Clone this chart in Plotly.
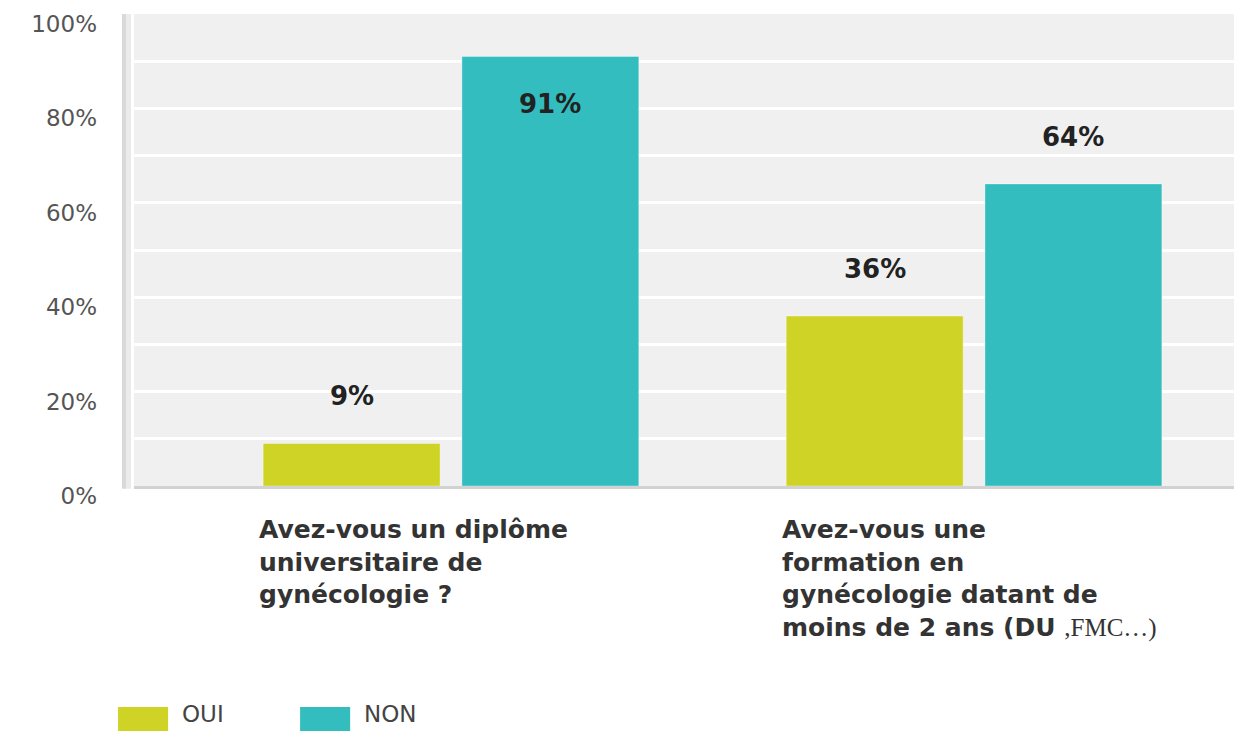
import plotly.graph_objects as go

categories = [
    "Avez-vous un diplôme<br>universitaire de<br>gynécologie ?",
    "Avez-vous une<br>formation en<br>gynécologie datant de<br>moins de 2 ans (DU <span style=\"font-family:'Liberation Serif';font-weight:normal\">,FMC…)</span>",
]
series_names = ["OUI", "NON"]
oui_values = [9, 36]
non_values = [91, 64]
colors = ["#cfd326", "#33bdbf"]
y_ticks = [0, 20, 40, 60, 80, 100]
y_tick_labels = ["0%", "20%", "40%", "60%", "80%", "100%"]

series_values = [oui_values, non_values]
bargap = 0.24
slot = (1 - bargap) / 2
x_idx = list(range(len(categories)))

fig = go.Figure()
for name, vals, col in zip(series_names, series_values, colors):
    fig.add_trace(go.Bar(
        x=x_idx, y=vals, name=name,
        marker=dict(color=col, line=dict(color="rgba(255,255,255,0.35)", width=1)),
        showlegend=False,
    ))

annotations = []
# value labels
for j, vals in enumerate(series_values):
    for i, v in enumerate(vals):
        annotations.append(dict(
            x=i + (j - 0.5) * slot, y=min(v + 10, 81), xref="x", yref="y",
            text=f"{v}%", showarrow=False,
            font=dict(family="DejaVu Sans", size=26, color="#222222", weight="bold"),
        ))
# category labels
for i, c in enumerate(categories):
    annotations.append(dict(
        x=i - slot, y=0, xref="x", yref="paper", xanchor="left", yanchor="top",
        xshift=5, yshift=-27, align="left", text=c, showarrow=False,
        font=dict(family="DejaVu Sans", size=25, color="#333333", weight="bold"),
    ))

# custom legend
shapes = []
leg_x = [-0.0145, 0.151]
for k, (name, col) in enumerate(zip(series_names, colors)):
    shapes.append(dict(type="rect", xref="paper", yref="paper",
                       x0=leg_x[k], x1=leg_x[k] + 0.0455, y0=-0.53, y1=-0.468,
                       fillcolor=col, line=dict(width=0)))
    annotations.append(dict(x=leg_x[k] + 0.0565, y=-0.482, xref="paper", yref="paper",
                            xanchor="left", yanchor="middle", text=name, showarrow=False,
                            font=dict(family="DejaVu Sans", size=23, color="#444444")))

# left axis stripe
shapes.append(dict(type="rect", xref="paper", yref="paper", xsizemode="pixel", xanchor=0,
                   x0=-12, x1=-8, y0=-0.006, y1=1, fillcolor="#d9d9d9", line=dict(width=0), layer="below"))
shapes.append(dict(type="rect", xref="paper", yref="paper", xsizemode="pixel", xanchor=0,
                   x0=-8, x1=-3, y0=-0.006, y1=1, fillcolor="#ebebeb", line=dict(width=0), layer="below"))

fig.update_layout(
    width=1239, height=723,
    margin=dict(l=126, r=13, t=6, b=245, autoexpand=False),
    paper_bgcolor="white", plot_bgcolor="#f0f0f0",
    barmode="group", bargap=bargap, bargroupgap=0.11,
    annotations=annotations, shapes=shapes,
    showlegend=False,
    xaxis=dict(range=[-0.606, 1.497], showticklabels=False, showgrid=False, zeroline=False,
               showline=True, linecolor="#d2d2d2", linewidth=3, ticks="", automargin=False),
    yaxis=dict(range=[0, 100], tickvals=y_ticks, ticktext=y_tick_labels,
               showgrid=True, gridcolor="white", gridwidth=3, zeroline=False,
               minor=dict(dtick=10, showgrid=True, gridcolor="white", gridwidth=3),
               ticklabelstandoff=36, ticklabelshift=10, automargin=False,
               tickfont=dict(family="DejaVu Sans", size=23, color="#555555")),
)

fig.write_html("out.html")
